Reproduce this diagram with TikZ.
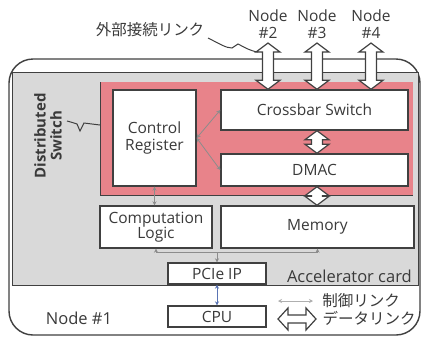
\documentclass[tikz,border=0pt]{standalone}
\usepackage{fontspec}
\setmainfont{Open Sans}
\newfontfamily\jpfont{Noto Sans CJK JP}
\usetikzlibrary{calc,arrows.meta}
\definecolor{txt}{HTML}{3A3A3A}
\definecolor{edge}{HTML}{404040}
\definecolor{pinkbg}{HTML}{E8838A}
\definecolor{graybg}{HTML}{D9D9D9}
\definecolor{ctrlc}{HTML}{8C8C8C}
\definecolor{bluec}{HTML}{5A74B4}
\tikzset{
  box/.style={draw=edge, line width=1.4pt, fill=white, text=txt, align=center, inner sep=0pt},
  lbl/.style={text=txt, align=center, inner sep=0pt},
  ctrl/.style={draw=ctrlc, line width=0.8pt, {Stealth[length=4pt,width=4pt]}-{Stealth[length=4pt,width=4pt]}},
  datalink/.style={draw=edge, line width=1.2pt, fill=white, line join=miter},
  squig/.style={draw=edge, line width=1pt},
}
\newcommand{\datalinkv}[2]{%
  \draw[datalink] (#1) -- ++(12,9) -- ++(-6.5,0) -- ($(#2)+(5.5,-9)$) -- ++(6.5,0) -- (#2)
    -- ++(-12,-9) -- ++(6.5,0) -- ($(#1)+(-5.5,9)$) -- ++(-6.5,0) -- cycle;}
\begin{document}
\begin{tikzpicture}[x=1pt,y=-1pt,font=\fontsize{15.5}{17}\selectfont]
\useasboundingbox (0,0) rectangle (424,341);
% outer node #1
\draw[draw=edge, line width=1.4pt, fill=white, rounded corners=24pt] (9,59) rectangle (420,335);
% accelerator card
\draw[draw=edge, line width=0.8pt, fill=graybg] (12,72) rectangle (418,285);
% distributed switch area
\fill[pinkbg] (100,82) rectangle (413,195);
\draw[edge, line width=1pt] (100,82) -- (100,195) -- (413,195);
% boxes
\node[box, minimum width=83pt, minimum height=96pt] (cr) at (154.5,138) {Control\\Register};
\node[box, minimum width=187pt, minimum height=40pt] (cb) at (314.5,110) {Crossbar Switch};
\node[box, minimum width=187pt, minimum height=32pt] (dmac) at (314.5,170) {DMAC};
\node[box, minimum width=193pt, minimum height=42pt] (mem) at (317.5,227) {Memory};
\node[box, minimum width=112pt, minimum height=42pt] (cl) at (156,227) {Computation\\[-2pt]Logic};
\node[box, minimum width=98pt, minimum height=21pt] (pcie) at (217,273.5) {PCIe IP};
\node[box, minimum width=98pt, minimum height=21pt] (cpu) at (217,316.5) {CPU};
% labels
\node[lbl] (n2) at (268,24) {Node\\\#2};
\node[lbl] (n3) at (317,24) {Node\\\#3};
\node[lbl] (n4) at (371,24) {Node\\\#4};
\node[lbl] (ext) at (150,30) {\jpfont 外部接続リンク};
\node[lbl, font=\fontsize{15}{16}\selectfont\bfseries, rotate=90] (ds) at (48,136) {Distributed\\Switch};
\node[lbl, anchor=east, font=\fontsize{16.5}{18}\selectfont] (acc) at (412,276) {Accelerator card};
\node[lbl, font=\fontsize{16.5}{18}\selectfont] (n1) at (79,318) {Node \#1};
\node[lbl] (lc) at (361,301) {\jpfont 制御リンク};
\node[lbl] (ld) at (369,318) {\jpfont データリンク};
% squiggles
\draw[squig] (208,38) .. controls (220,44) and (226,48) .. (232,48) -- (238,44) .. controls (244,47) and (250,51) .. (258,52);
\draw[squig] (67,121) .. controls (71,122) and (74,123) .. (77,124) -- (80,131) -- (84,123) -- (100,125);
% data links
\coordinate (t2) at (268,43);
\coordinate (t3) at (317,43);
\coordinate (t4) at (371,43);
\datalinkv{t2}{cb.north -| t2}
\datalinkv{t3}{cb.north -| t3}
\datalinkv{t4}{cb.north -| t4}
\datalinkv{cb.south -| t3}{dmac.north -| t3}
\datalinkv{dmac.south -| t3}{mem.north -| t3}
% control links
\draw[ctrl] (cr.east) -- (cb.west);
\draw[ctrl] (cr.east) -- (dmac.west);
\draw[ctrl] (cr.south) -- (cr.south |- cl.north);
\coordinate (j) at ($(pcie.north)+(0,-10)$);
\draw[ctrl] (cl.south) -- (cl.south |- j) -- (mem.south |- j) -- (mem.south);
\draw[draw=ctrlc, line width=0.8pt, -{Stealth[length=4pt,width=4pt]}] (j) -- (pcie.north);
\draw[ctrl, draw=bluec] (pcie.south) -- (cpu.north);
% legend
\coordinate (la) at (278,301);
\coordinate (lb) at (313,301);
\draw[ctrl, draw=ctrlc!70] (la) -- (lb);
\coordinate (da) at (278,319);
\coordinate (db) at (316,319);
\draw[datalink] (da) -- ++(10,-11) -- ++(0,7) -- ($(db)+(-10,-4)$) -- ++(0,-7) -- (db) -- ++(-10,11) -- ++(0,-7) -- ($(da)+(10,4)$) -- ++(0,7) -- cycle;
\end{tikzpicture}
\end{document}
